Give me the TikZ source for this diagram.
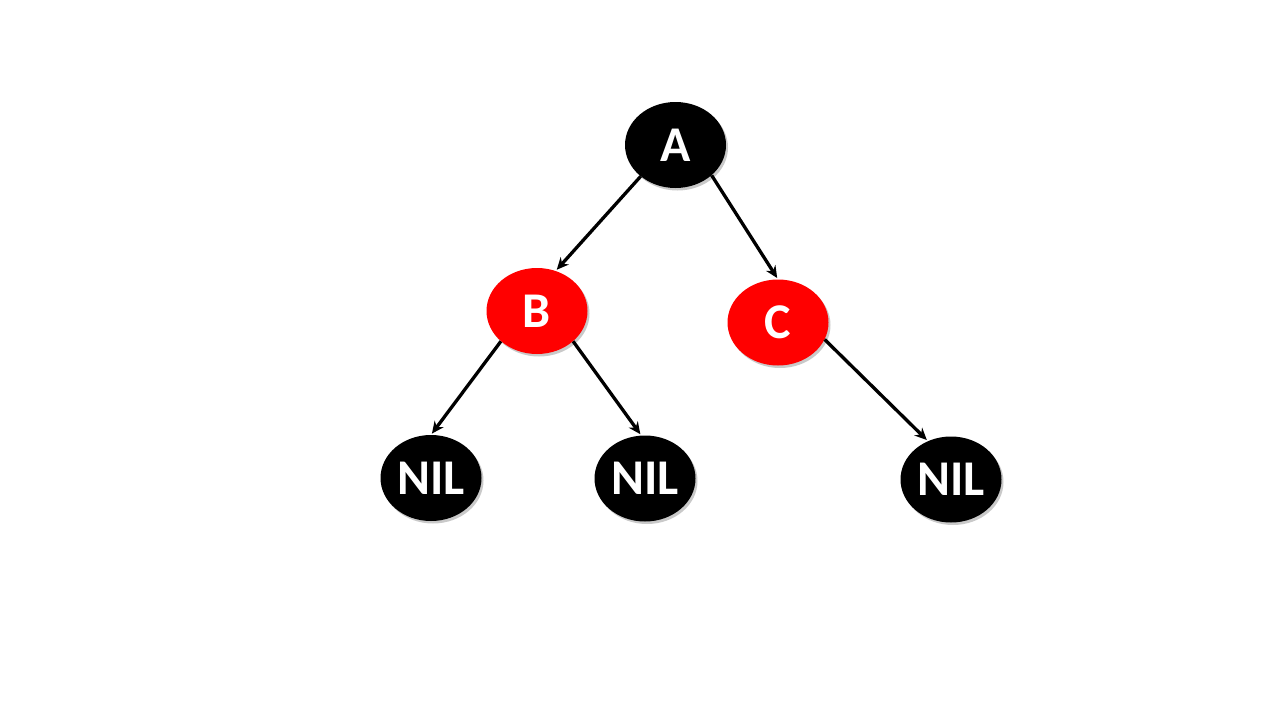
\documentclass[tikz,border=0pt]{standalone}
\usepackage{fontspec}
\setmainfont{Carlito}
\usetikzlibrary{shapes.geometric,shadows,arrows.meta}
\begin{document}
\begin{tikzpicture}[x=1pt,y=-1pt,
  rbnode/.style={ellipse, minimum width=101pt, minimum height=86pt, inner sep=0pt,
    text=white, font=\fontsize{50}{60}\selectfont\bfseries,
    drop shadow={shadow xshift=2pt, shadow yshift=-2.5pt, opacity=0.35, fill=black!60}},
  blk/.style={rbnode, fill=black},
  rd/.style={rbnode, fill=red},
  edge/.style={line width=3.3pt, -{Stealth[length=12pt,width=11pt]}, shorten >=1.5pt}]
\useasboundingbox[fill=white] (0,0) rectangle (1280,720);
\node[blk] (A) at (675.5,145) {A};
\node[rd] (B) at (537,311) {B};
\node[rd] (C) at (778,322.5) {C};
\node[blk] (N1) at (431,478) {NIL};
\node[blk] (N2) at (645,478.5) {NIL};
\node[blk] (N3) at (951,479.5) {NIL};
\draw[edge] (A.222) -- (B.65);
\draw[edge] (A.320) -- (C.90);
\draw[edge] (B.220) -- (N1.90);
\draw[edge] (B.320) -- (N2.95);
\draw[edge] (C.340) -- (N3.121);
\end{tikzpicture}
\end{document}
